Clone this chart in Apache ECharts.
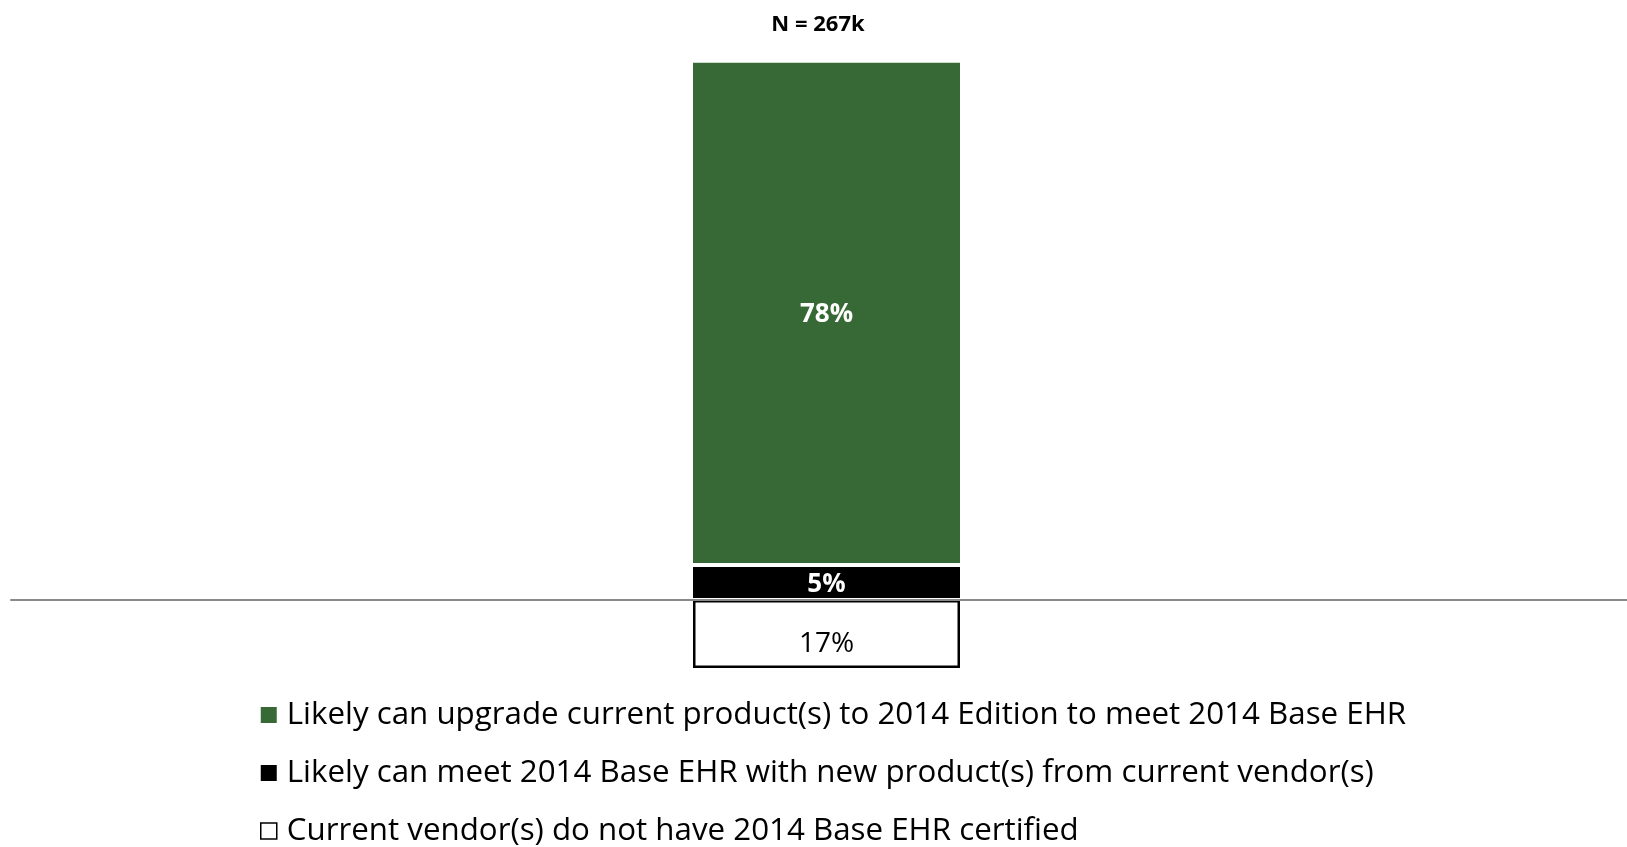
<!DOCTYPE html>
<html>
<head>
<meta charset="utf-8">
<script src="https://cdn.jsdelivr.net/npm/echarts@6/dist/echarts.min.js"></script>
<style>html,body{margin:0;padding:0;background:#fff}#c{width:1627px;height:847px}</style>
</head>
<body>
<div id="c"></div>
<script>
const titleText = 'N = 267k';
const categories = ['All'];
const seriesNames = [
  'Likely can upgrade current product(s) to 2014 Edition to meet 2014 Base EHR',
  'Likely can meet 2014 Base EHR with new product(s) from current vendor(s)',
  'Current vendor(s) do not have 2014 Base EHR certified'
];
const upgradeValues = [77.6];
const newProductValues = [5.4];
const notCertifiedValues = [17];

const FONT = '"Open Sans"';
const chart = echarts.init(document.getElementById('c'), null, {renderer: 'canvas'});
const pct = p => Math.round(Math.abs(p.value)) + '%';

chart.setOption({
  animation: false,
  backgroundColor: '#ffffff',
  title: {
    text: titleText,
    left: 818, top: 14, textAlign: 'center', padding: 0,
    textStyle: {fontFamily: FONT, fontWeight: 'bold', fontSize: 22, color: '#000'}
  },
  grid: [
    {left: 26, right: 0, top: 60.75, bottom: 149.5, containLabel: false},
    {left: 11, right: 0, top: 60.75, bottom: 149.5, containLabel: false}
  ],
  xAxis: [
    {type: 'category', data: categories, gridIndex: 0, show: false},
    {type: 'category', data: categories, gridIndex: 0, show: false},
    {type: 'category', data: categories, gridIndex: 1, z: 10,
     axisLine: {show: true, onZero: true, lineStyle: {color: '#898989', width: 2}},
     axisTick: {show: false}, axisLabel: {show: false}, splitLine: {show: false}}
  ],
  yAxis: [
    {type: 'value', gridIndex: 0, min: -15, max: 83, show: false, splitLine: {show: false}},
    {type: 'value', gridIndex: 0, min: -24.375, max: 134.8, show: false, splitLine: {show: false}},
    {type: 'value', gridIndex: 1, min: -15, max: 83, show: false, splitLine: {show: false}}
  ],
  legend: {
    orient: 'vertical', left: 260, top: 698.5, height: 200, padding: 0,
    itemWidth: 16, itemHeight: 16, itemGap: 25, icon: 'rect',
    textStyle: {fontFamily: FONT, fontSize: 31.3, color: '#000', lineHeight: 33, padding: [0, 0, 0, 5]},
    data: [
      {name: seriesNames[0], itemStyle: {color: '#366936', borderWidth: 0}},
      {name: seriesNames[1], itemStyle: {color: '#000000', borderWidth: 0}},
      {name: seriesNames[2], itemStyle: {color: '#ffffff', borderColor: '#000', borderWidth: 1.5}}
    ]
  },
  series: [
    {
      name: seriesNames[1], type: 'bar', stack: 'pos', xAxisIndex: 0, yAxisIndex: 0,
      data: newProductValues, barWidth: 271,
      itemStyle: {color: '#000000', borderColor: '#ffffff', borderWidth: 2},
      label: {show: true, position: 'inside', formatter: pct, color: '#fff', offset: [0, 2],
              fontFamily: FONT, fontWeight: 'bold', fontSize: 26}
    },
    {
      name: seriesNames[0], type: 'bar', stack: 'pos', xAxisIndex: 0, yAxisIndex: 0,
      data: upgradeValues, barWidth: 271,
      itemStyle: {color: '#366936', borderColor: '#ffffff', borderWidth: 2},
      label: {show: true, position: 'inside', formatter: pct, color: '#fff', offset: [0, 2],
              fontFamily: FONT, fontWeight: 'bold', fontSize: 26}
    },
    {
      name: seriesNames[2], type: 'bar', xAxisIndex: 1, yAxisIndex: 1,
      data: notCertifiedValues.map(v => -v), barWidth: 267,
      itemStyle: {color: '#ffffff', borderColor: '#000000', borderWidth: 2.5},
      label: {show: true, position: 'inside', formatter: pct, color: '#000', offset: [0, 10],
              fontFamily: FONT, fontWeight: 'normal', fontSize: 28}
    }
  ]
});
</script>
</body>
</html>
